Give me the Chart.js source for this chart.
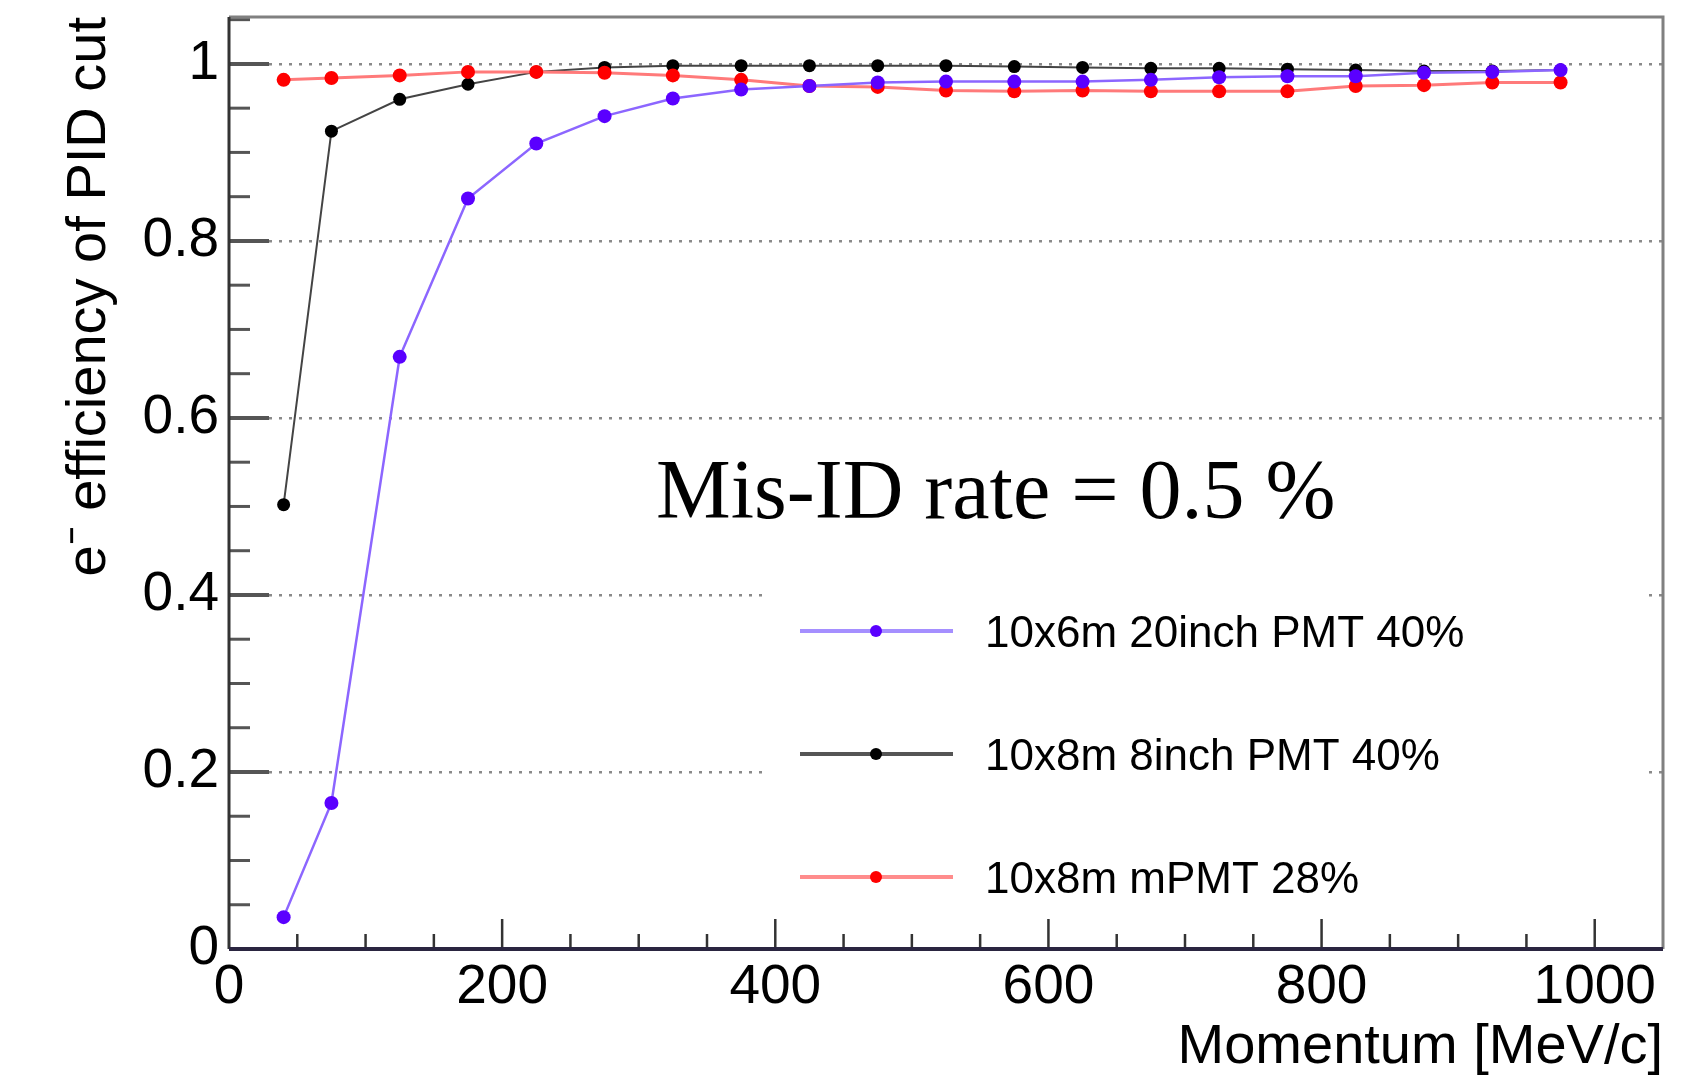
<!DOCTYPE html>
<html>
<head>
<meta charset="utf-8">
<script src="https://cdn.jsdelivr.net/npm/chart.js@4.4.0/dist/chart.umd.min.js"></script>
<style>
  html, body { margin: 0; padding: 0; background: #fff; }
</style>
</head>
<body>
<canvas id="effChart" width="1707" height="1076"></canvas>
<script>
// momentum bin centres [MeV/c]
const momentum = [40, 75, 125, 175, 225, 275, 325, 375, 425, 475, 525, 575, 625, 675, 725, 775, 825, 875, 925, 975];

// e- efficiency for each detector setup
const eff20inch = [0.036, 0.165, 0.669, 0.848, 0.910, 0.941, 0.961, 0.971, 0.975, 0.979, 0.980, 0.980, 0.980, 0.982, 0.985, 0.986, 0.986, 0.990, 0.991, 0.993];
const eff8inch  = [0.502, 0.924, 0.960, 0.977, 0.991, 0.996, 0.998, 0.998, 0.998, 0.998, 0.998, 0.997, 0.996, 0.995, 0.995, 0.994, 0.993, 0.992, 0.992, 0.993];
const effMpmt   = [0.982, 0.984, 0.987, 0.991, 0.991, 0.990, 0.987, 0.982, 0.975, 0.974, 0.970, 0.969, 0.970, 0.969, 0.969, 0.969, 0.975, 0.976, 0.979, 0.979];

const seriesNames = ['10x6m 20inch PMT 40%', '10x8m 8inch PMT 40%', '10x8m mPMT 28%'];

const xTicks = [0, 200, 400, 600, 800, 1000];
const yTicks = [0, 0.2, 0.4, 0.6, 0.8, 1];

const noteText = 'Mis-ID rate = 0.5 %';

const sans = '"Liberation Sans", Arial, sans-serif';

function toPoints(ys) {
  return momentum.map((x, i) => ({ x: x, y: ys[i] }));
}

// ROOT-like frame, inner ticks, legend and text label
const rootStyle = {
  id: 'rootStyle',
  afterDraw(chart) {
    const ctx = chart.ctx;
    const area = chart.chartArea;
    const xs = chart.scales.x;
    const ys = chart.scales.y;

    ctx.save();

    // legend box (hides the grid behind it)
    ctx.fillStyle = '#fff';
    ctx.fillRect(763, 565, 886, 345);

    chart.data.datasets.forEach((ds, i) => {
      const ly = 631 + i * 123;
      ctx.strokeStyle = ds.legendLine;
      ctx.lineWidth = 4;
      ctx.beginPath();
      ctx.moveTo(800, ly);
      ctx.lineTo(953, ly);
      ctx.stroke();
      ctx.fillStyle = ds.pointBackgroundColor;
      ctx.beginPath();
      ctx.arc(876, ly, 6, 0, Math.PI * 2);
      ctx.fill();
      ctx.fillStyle = '#000';
      ctx.font = '44px ' + sans;
      ctx.textBaseline = 'middle';
      ctx.textAlign = 'left';
      ctx.fillText(ds.label, 985, ly + 4);
    });

    // annotation
    ctx.fillStyle = '#000';
    ctx.font = '84px "Liberation Serif", "Times New Roman", serif';
    ctx.textBaseline = 'alphabetic';
    ctx.fillText(noteText, 656, 518);

    // y ticks, drawn inside the frame
    ctx.strokeStyle = '#555';
    for (let k = 1; k * 0.05 < ys.max; k++) {
      const v = k * 0.05;
      const major = k % 4 === 0;
      const py = ys.getPixelForValue(v);
      ctx.lineWidth = major ? 4 : 3;
      ctx.beginPath();
      ctx.moveTo(area.left, py);
      ctx.lineTo(area.left + (major ? 40 : 21), py);
      ctx.stroke();
    }

    // x ticks
    ctx.strokeStyle = '#333';
    ctx.lineWidth = 2.5;
    for (let k = 1; k * 50 <= 1000; k++) {
      const v = k * 50;
      const major = k % 4 === 0;
      const px = xs.getPixelForValue(v);
      ctx.beginPath();
      ctx.moveTo(px, area.bottom);
      ctx.lineTo(px, area.bottom - (major ? 30 : 15));
      ctx.stroke();
    }

    // frame
    ctx.lineWidth = 3;
    ctx.strokeStyle = '#808080';
    ctx.beginPath();
    ctx.moveTo(area.left, area.top);
    ctx.lineTo(area.right, area.top);
    ctx.lineTo(area.right, area.bottom);
    ctx.stroke();

    ctx.strokeStyle = '#333';
    ctx.beginPath();
    ctx.moveTo(area.left, area.top);
    ctx.lineTo(area.left, area.bottom);
    ctx.stroke();

    ctx.lineWidth = 4;
    ctx.strokeStyle = '#2a2540';
    ctx.beginPath();
    ctx.moveTo(area.left, area.bottom);
    ctx.lineTo(area.right, area.bottom);
    ctx.stroke();

    ctx.restore();
  }
};

const ctx = document.getElementById('effChart').getContext('2d');
const effChart = new Chart(ctx, {
  type: 'scatter',
  data: {
    datasets: [
      {
        label: seriesNames[0],
        data: toPoints(eff20inch),
        showLine: true,
        borderColor: '#8c66ff',
        borderWidth: 2.5,
        legendLine: '#a58fff',
        pointBackgroundColor: '#5a00ff',
        pointBorderWidth: 0,
        pointRadius: 7,
        order: 1
      },
      {
        label: seriesNames[1],
        data: toPoints(eff8inch),
        showLine: true,
        borderColor: '#444',
        borderWidth: 2,
        legendLine: '#555',
        pointBackgroundColor: '#000',
        pointBorderWidth: 0,
        pointRadius: 6.5,
        order: 3
      },
      {
        label: seriesNames[2],
        data: toPoints(effMpmt),
        showLine: true,
        borderColor: '#ff7a7a',
        borderWidth: 3,
        legendLine: '#ff8c8c',
        pointBackgroundColor: '#ff0000',
        pointBorderWidth: 0,
        pointRadius: 7,
        order: 2
      }
    ]
  },
  options: {
    responsive: false,
    animation: false,
    devicePixelRatio: 1,
    layout: { padding: { top: 17, right: 44, left: 0, bottom: 0 } },
    plugins: {
      legend: { display: false },
      tooltip: { enabled: false }
    },
    scales: {
      x: {
        type: 'linear',
        min: 0,
        max: 1050,
        afterBuildTicks: s => { s.ticks = xTicks.map(v => ({ value: v })); },
        afterFit: s => { s.height = 127; s.paddingLeft = 0; s.paddingRight = 0; },
        grid: { display: false, drawTicks: false },
        border: { display: false },
        ticks: {
          color: '#000',
          font: { family: sans, size: 55 },
          padding: 6,
          maxRotation: 0,
          autoSkip: false,
          callback: v => String(v)
        },
        title: {
          display: true,
          text: 'Momentum [MeV/c]',
          align: 'end',
          color: '#000',
          font: { family: sans, size: 56, lineHeight: 1 },
          padding: 0
        }
      },
      y: {
        type: 'linear',
        min: 0,
        max: 1.053,
        afterBuildTicks: s => { s.ticks = yTicks.map(v => ({ value: v })); },
        afterFit: s => { s.width = 229; s.paddingTop = 0; s.paddingBottom = 0; },
        grid: { color: '#8a8a8a', lineWidth: 2.5, drawTicks: false },
        border: { display: false, dash: [3, 7] },
        ticks: {
          color: '#000',
          font: { family: sans, size: 55 },
          padding: 10,
          autoSkip: false,
          callback: v => String(v)
        },
        title: {
          display: true,
          text: 'e\u207B efficiency of PID cut',
          align: 'end',
          color: '#000',
          font: { family: sans, size: 56, lineHeight: 1 },
          padding: { top: 62, bottom: 0 }
        }
      }
    }
  },
  plugins: [rootStyle]
});
</script>
</body>
</html>
